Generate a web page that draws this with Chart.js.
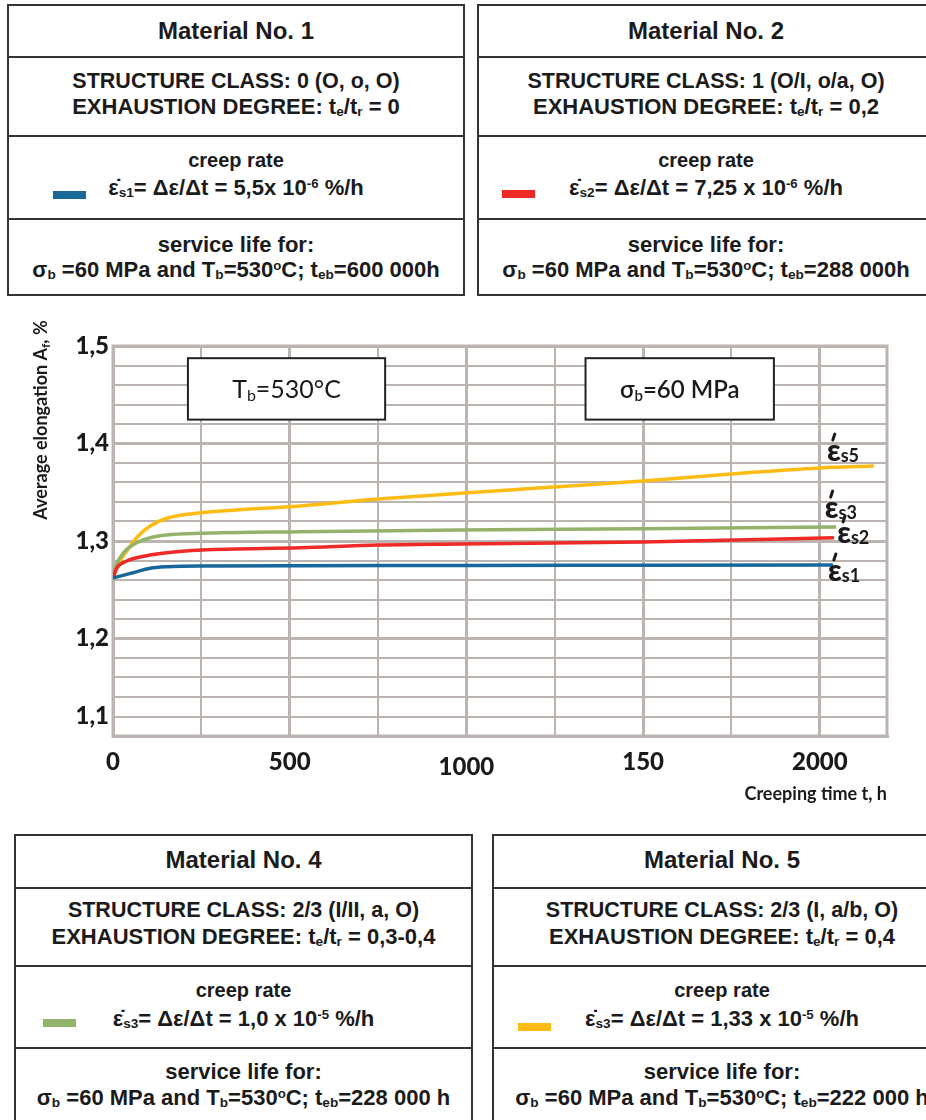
<!DOCTYPE html>
<html>
<head>
<meta charset="utf-8">
<script src="https://cdn.jsdelivr.net/npm/chart.js@4.4.1/dist/chart.umd.min.js"></script>
<style>
  body { margin: 0; background: #fff; width: 926px; height: 1120px; overflow: hidden; position: relative; }
  .card { position: absolute; border: 2px solid #333; box-sizing: border-box; background: #fff; overflow: hidden; }
  .sep { position: absolute; left: 0; right: 0; height: 0; border-top: 2px solid #333; }
  .ln { position: absolute; left: 0; right: 0; height: 26px; line-height: 26px; text-align: center; white-space: nowrap;
        font: bold 21.5px "Liberation Sans", Arial, sans-serif; color: #1b1b1b; }
  .ln.head { font-size: 24px; }
  .ln.small { font-size: 20px; }
  .ln.big { font-size: 22px; }
  .ln sub { font-size: 0.62em; vertical-align: -0.12em; }
  .ln sup { font-size: 0.6em; vertical-align: 0.55em; }
  .sw { position: absolute; width: 33px; height: 8px; }
  #wrap { position: absolute; left: 0; top: 300px; width: 926px; height: 520px; }
</style>
</head>
<body>

<div class="card" style="left:7px;top:4px;width:458px;height:292px">
  <div class="ln head" style="top:11px">Material No. 1</div>
  <div class="sep" style="top:50px"></div>
  <div class="ln" style="top:63px">STRUCTURE CLASS: 0 (O, o, O)</div>
  <div class="ln big" style="top:88px">EXHAUSTION DEGREE: t<sub>e</sub>/t<sub>r</sub> = 0</div>
  <div class="sep" style="top:129px"></div>
  <div class="ln small" style="top:143px">creep rate</div>
  <div class="ln big" style="top:169px">ε̇<sub>s1</sub>= Δε/Δt = 5,5x 10<sup>-6</sup> %/h</div>
  <div class="sw" id="sw1" style="left:44px;top:185px"></div>
  <div class="sep" style="top:212px"></div>
  <div class="ln big" style="top:226px">service life for:</div>
  <div class="ln big" style="top:251px">σ<sub>b</sub> =60 MPa and T<sub>b</sub>=530<sup>o</sup>C; t<sub>eb</sub>=600 000h</div>
</div>

<div class="card" style="left:477px;top:4px;width:458px;height:292px">
  <div class="ln head" style="top:11px">Material No. 2</div>
  <div class="sep" style="top:50px"></div>
  <div class="ln" style="top:63px">STRUCTURE CLASS: 1 (O/I, o/a, O)</div>
  <div class="ln big" style="top:88px">EXHAUSTION DEGREE: t<sub>e</sub>/t<sub>r</sub> = 0,2</div>
  <div class="sep" style="top:129px"></div>
  <div class="ln small" style="top:143px">creep rate</div>
  <div class="ln big" style="top:169px">ε̇<sub>s2</sub>= Δε/Δt = 7,25 x 10<sup>-6</sup> %/h</div>
  <div class="sw" id="sw2" style="left:23px;top:184px"></div>
  <div class="sep" style="top:212px"></div>
  <div class="ln big" style="top:226px">service life for:</div>
  <div class="ln big" style="top:251px">σ<sub>b</sub> =60 MPa and T<sub>b</sub>=530<sup>o</sup>C; t<sub>eb</sub>=288 000h</div>
</div>

<div class="card" style="left:14px;top:834px;width:459px;height:300px">
  <div class="ln head" style="top:10px">Material No. 4</div>
  <div class="sep" style="top:51px"></div>
  <div class="ln" style="top:62px">STRUCTURE CLASS: 2/3 (I/II, a, O)</div>
  <div class="ln big" style="top:88px">EXHAUSTION DEGREE: t<sub>e</sub>/t<sub>r</sub> = 0,3-0,4</div>
  <div class="sep" style="top:129px"></div>
  <div class="ln small" style="top:143px">creep rate</div>
  <div class="ln big" style="top:170px">ε̇<sub>s3</sub>= Δε/Δt = 1,0 x 10<sup>-5</sup> %/h</div>
  <div class="sw" id="sw4" style="left:27px;top:183px"></div>
  <div class="sep" style="top:211px"></div>
  <div class="ln big" style="top:223px">service life for:</div>
  <div class="ln big" style="top:249px">σ<sub>b</sub> =60 MPa and T<sub>b</sub>=530<sup>o</sup>C; t<sub>eb</sub>=228 000 h</div>
</div>

<div class="card" style="left:492px;top:834px;width:460px;height:300px">
  <div class="ln head" style="top:10px">Material No. 5</div>
  <div class="sep" style="top:51px"></div>
  <div class="ln" style="top:62px">STRUCTURE CLASS: 2/3 (I, a/b, O)</div>
  <div class="ln big" style="top:88px">EXHAUSTION DEGREE: t<sub>e</sub>/t<sub>r</sub> = 0,4</div>
  <div class="sep" style="top:129px"></div>
  <div class="ln small" style="top:143px">creep rate</div>
  <div class="ln big" style="top:170px">ε̇<sub>s3</sub>= Δε/Δt = 1,33 x 10<sup>-5</sup> %/h</div>
  <div class="sw" id="sw5" style="left:24px;top:187px"></div>
  <div class="sep" style="top:211px"></div>
  <div class="ln big" style="top:223px">service life for:</div>
  <div class="ln big" style="top:249px">σ<sub>b</sub> =60 MPa and T<sub>b</sub>=530<sup>o</sup>C; t<sub>eb</sub>=222 000 h</div>
</div>

<div id="wrap"><canvas id="chart" width="926" height="520"></canvas></div>

<script>
// creep curves: time in h, average elongation in %
const time1 = [0, 20, 57, 105, 153, 246, 530, 1000, 1500, 2037];
const elong1 = [1.262, 1.264, 1.2675, 1.272, 1.2736, 1.2744, 1.2746, 1.275, 1.2752, 1.2754];

const time2 = [0, 10, 39, 76, 152, 251, 530, 751, 983, 1499, 2040];
const elong2 = [1.262, 1.272, 1.2795, 1.2836, 1.288, 1.2908, 1.2931, 1.2959, 1.297, 1.299, 1.3034];

const time4 = [0, 6, 20, 39, 67, 105, 152, 246, 530, 983, 1499, 2046];
const elong4 = [1.261, 1.2726, 1.283, 1.2914, 1.2983, 1.3034, 1.3062, 1.3079, 1.3095, 1.3113, 1.3126, 1.3144];

const time5 = [0, 20, 39, 67, 105, 152, 251, 340, 530, 751, 983, 1246, 1499, 1748, 2000, 2153];
const elong5 = [1.2624, 1.2795, 1.2897, 1.3034, 1.3154, 1.3233, 1.329, 1.3315, 1.336, 1.343, 1.349, 1.3554, 1.3615, 1.3687, 1.3749, 1.377];

const colors = ['#17679a', '#ee2a27', '#93b36a', '#fdbb13'];
const swatchIds = ['sw1', 'sw2', 'sw4', 'sw5'];

// axis grid and the labels printed on it
const xTickValues = [0, 250, 500, 750, 1000, 1250, 1500, 1750, 2000];
const xTickText = [[0, '0'], [500, '500'], [1000, '1000'], [1500, '150'], [2000, '2000']];
const yTickText = [[1.5, '1,5'], [1.4, '1,4'], [1.3, '1,3'], [1.2, '1,2'], [1.12, '1,1']];

// curve tags at the line ends: [subscript, time, elongation at the text baseline]
const tags = [['s5', 2020, 1.382], ['s3', 2014, 1.3235], ['s2', 2049, 1.298], ['s1', 2023, 1.259]];

const gridColor = '#bbb4b1';
const CHART_FONT = 'Lato, "Open Sans", sans-serif';

swatchIds.forEach((id, i) => { document.getElementById(id).style.background = colors[i]; });

function pairs(xs, ys) {
    return xs.map((x, i) => ({ x: x, y: ys[i] }));
}

function lookup(table, v) {
    const hit = table.find(t => Math.abs(t[0] - v) < 1e-6);
    return hit ? hit[1] : '';
}

// text made of pieces with their own font and vertical shift
function richWidth(ctx, parts) {
    let w = 0;
    parts.forEach(p => { ctx.font = p[1]; w += ctx.measureText(p[0]).width; });
    return w;
}
function drawRich(ctx, parts, x, y, align) {
    let cx = align === 'center' ? x - richWidth(ctx, parts) / 2 : x;
    ctx.textAlign = 'left';
    ctx.textBaseline = 'alphabetic';
    parts.forEach(p => {
        ctx.font = p[1];
        ctx.fillText(p[0], cx, y + (p[2] || 0));
        cx += ctx.measureText(p[0]).width;
    });
}

const extras = {
    id: 'extras',
    beforeDatasetsDraw(chart) {
        const a = chart.chartArea, ctx = chart.ctx;
        ctx.save();
        ctx.strokeStyle = gridColor;
        ctx.lineWidth = 3;
        ctx.strokeRect(a.left, a.top, a.right - a.left, a.bottom - a.top);
        ctx.restore();
    },
    afterDatasetsDraw(chart) {
        const ctx = chart.ctx, xs = chart.scales.x, ys = chart.scales.y;
        ctx.save();
        // test condition boxes
        const boxes = [
            [212, 770, [['T', '25px ' + CHART_FONT], ['b', '16px ' + CHART_FONT, 3], ['=530°C', '25px ' + CHART_FONT]]],
            [1337, 1870, [['σ', '600 24px ' + CHART_FONT], ['b', '600 15px ' + CHART_FONT, 3], ['=60 MPa', '600 24px ' + CHART_FONT]]]
        ];
        boxes.forEach(b => {
            const l = xs.getPixelForValue(b[0]), r = xs.getPixelForValue(b[1]);
            const t = ys.getPixelForValue(1.4875), btm = ys.getPixelForValue(1.4245);
            ctx.fillStyle = '#fff';
            ctx.fillRect(l, t, r - l, btm - t);
            ctx.strokeStyle = '#222';
            ctx.lineWidth = 2;
            ctx.strokeRect(l, t, r - l, btm - t);
            ctx.fillStyle = '#1a1a1a';
            drawRich(ctx, b[2], (l + r) / 2, (t + btm) / 2 + 9, 'center');
        });
        // epsilon-dot tags
        ctx.fillStyle = '#1a1a1a';
        ctx.strokeStyle = '#1a1a1a';
        tags.forEach(tg => {
            const px = xs.getPixelForValue(tg[1]), py = ys.getPixelForValue(tg[2]);
            ctx.font = '900 30px ' + CHART_FONT;
            ctx.textAlign = 'left';
            ctx.textBaseline = 'alphabetic';
            ctx.fillText('ε', px, py);
            const ew = ctx.measureText('ε').width;
            ctx.lineWidth = 3;
            ctx.lineCap = 'round';
            ctx.beginPath();
            ctx.moveTo(px + ew * 0.5 + 1, py - 27);
            ctx.lineTo(px + ew * 0.5 - 1, py - 21);
            ctx.stroke();
            ctx.font = 'bold 18px ' + CHART_FONT;
            ctx.fillText(tg[0], px + ew, py + 1);
        });
        ctx.restore();
    },
    afterDraw(chart) {
        const ctx = chart.ctx, a = chart.chartArea;
        ctx.save();
        ctx.translate(a.left - 72, a.top + 74);
        ctx.rotate(-Math.PI / 2);
        ctx.fillStyle = '#1a1a1a';
        drawRich(ctx, [
            ['Average elongation A', 'bold 18px ' + CHART_FONT],
            ['f', 'bold 12px ' + CHART_FONT, 3],
            [', %', 'bold 18px ' + CHART_FONT]
        ], 0, 6, 'center');
        ctx.restore();
    }
};

new Chart(document.getElementById('chart'), {
    type: 'line',
    data: {
        datasets: [
            { data: pairs(time1, elong1), borderColor: colors[0] },
            { data: pairs(time2, elong2), borderColor: colors[1] },
            { data: pairs(time4, elong4), borderColor: colors[2] },
            { data: pairs(time5, elong5), borderColor: colors[3] }
        ].map(d => Object.assign(d, { borderWidth: 3.5, pointRadius: 0, cubicInterpolationMode: 'monotone', fill: false }))
    },
    options: {
        responsive: false,
        animation: false,
        devicePixelRatio: 1,
        layout: { padding: { top: 46, right: 39, left: 0, bottom: 0 } },
        plugins: { legend: { display: false }, tooltip: { enabled: false } },
        scales: {
            x: {
                type: 'linear',
                min: 0, max: 2190,
                afterBuildTicks(scale) { scale.ticks = xTickValues.map(v => ({ value: v })); },
                afterFit(scale) { scale.height = 84; },
                grid: {
                    color: gridColor,
                    drawTicks: false,
                    lineWidth: c => (c.tick && c.tick.value % 500 === 0) ? 3 : 2
                },
                border: { display: true, color: gridColor, width: 3 },
                ticks: {
                    autoSkip: false,
                    maxRotation: 0,
                    padding: 12,
                    color: '#1a1a1a',
                    // the 1000 label sits a little lower than its neighbours
                    font: c => ({ family: CHART_FONT, size: 24, weight: '900',
                                  lineHeight: (c.tick && c.tick.value === 1000) ? 1.62 : 1.2 }),
                    callback: v => lookup(xTickText, v)
                },
                title: {
                    display: true,
                    text: 'Creeping time t, h',
                    align: 'end',
                    color: '#1a1a1a',
                    font: { family: CHART_FONT, size: 18, weight: 'bold' },
                    padding: { top: 0, bottom: 15 }
                }
            },
            y: {
                min: 1.1, max: 1.5,
                afterFit(scale) { scale.width = 113; },
                grid: {
                    color: gridColor,
                    drawTicks: false,
                    lineWidth: c => {
                        const v = c.tick ? c.tick.value : 0;
                        return Math.abs(v * 10 - Math.round(v * 10)) < 1e-6 ? 3 : 2;
                    }
                },
                border: { display: true, color: gridColor, width: 3 },
                ticks: {
                    stepSize: 0.02,
                    autoSkip: false,
                    padding: 4,
                    color: '#1a1a1a',
                    font: { family: CHART_FONT, size: 24, weight: '900' },
                    callback: v => lookup(yTickText, v)
                }
            }
        }
    },
    plugins: [extras]
});
</script>
</body>
</html>
